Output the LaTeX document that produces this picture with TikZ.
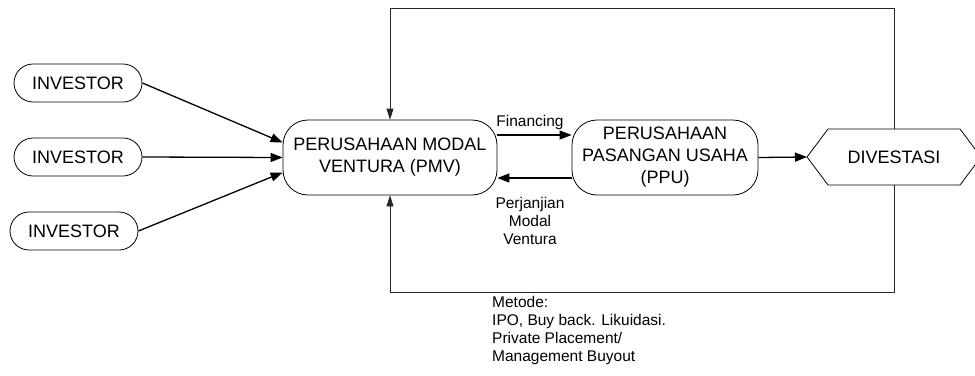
\documentclass[tikz,border=0pt]{standalone}
\usepackage{fontspec}
\setmainfont{Liberation Sans}
\usetikzlibrary{arrows.meta}
\begin{document}
\begin{tikzpicture}[x=1pt,y=-1pt,
  big/.style={font=\fontsize{18}{22}\selectfont},
  small/.style={font=\fontsize{15.5}{18}\selectfont},
  stadium/.style={draw,line width=0.8pt,rounded corners=19pt,minimum width=128pt,minimum height=38pt,inner sep=0pt,big},
  bigbox/.style={draw,line width=0.8pt,rounded corners=25pt,minimum height=75pt,inner sep=0pt,align=center,big},
  arr/.style={line width=1.3pt,-{Triangle[length=12pt,width=9pt]}},
  loop/.style={line width=0.8pt,draw=black!85,-{Triangle[length=11pt,width=7pt]}}]
\clip (0,0) rectangle (975,375);
\useasboundingbox (0,0) rectangle (975,375);
\node[stadium] (inv1) at (78,83) {INVESTOR};
\node[stadium] (inv2) at (78,157) {INVESTOR};
\node[stadium] (inv3) at (74,231) {INVESTOR};
\node[bigbox,minimum width=214pt] (pmv) at (390,157.5) {PERUSAHAAN MODAL\\VENTURA (PMV)};
\node[bigbox,minimum width=186pt] (ppu) at (665,157.5) {PERUSAHAAN\\PASANGAN USAHA\\(PPU)};
\node[big] (div) at (894,157) {DIVESTASI};
\draw[line width=0.8pt] (807,157) -- (828,129) -- (960,129) -- (981,157) -- (960,185) -- (828,185) -- cycle;
\coordinate (divW) at (807,157);
\coordinate (divT) at (894,129);
\coordinate (divB) at (894,185);
\coordinate (topR) at (894,8);
\coordinate (botR) at (894,292);
\draw[arr] (inv1.east) -- ([yshift=15pt]pmv.west);
\draw[arr] (inv2.east) -- (pmv.west);
\draw[arr] (inv3.east) -- ([yshift=-15pt]pmv.west);
\draw[arr] ([yshift=22.5pt]pmv.east) -- ([yshift=22.5pt]ppu.west);
\draw[arr] ([yshift=-20.5pt]ppu.west) -- ([yshift=-20.5pt]pmv.east);
\draw[arr] (ppu.east) -- (divW);
\draw[loop] (divT) -- (topR) -| (pmv.north);
\draw[loop] (divB) -- (botR) -| (pmv.south);
\node[small] (fin) at (530,122) {Financing};
\node[small,align=center] (perj) at (530,221) {Perjanjian\\Modal\\Ventura};
\node[small,align=left,anchor=north west,inner sep=0pt] (met) at (492,296) {Metode:\\IPO, Buy back. Likuidasi.\\Private Placement/\\Management Buyout};
\end{tikzpicture}
\end{document}
